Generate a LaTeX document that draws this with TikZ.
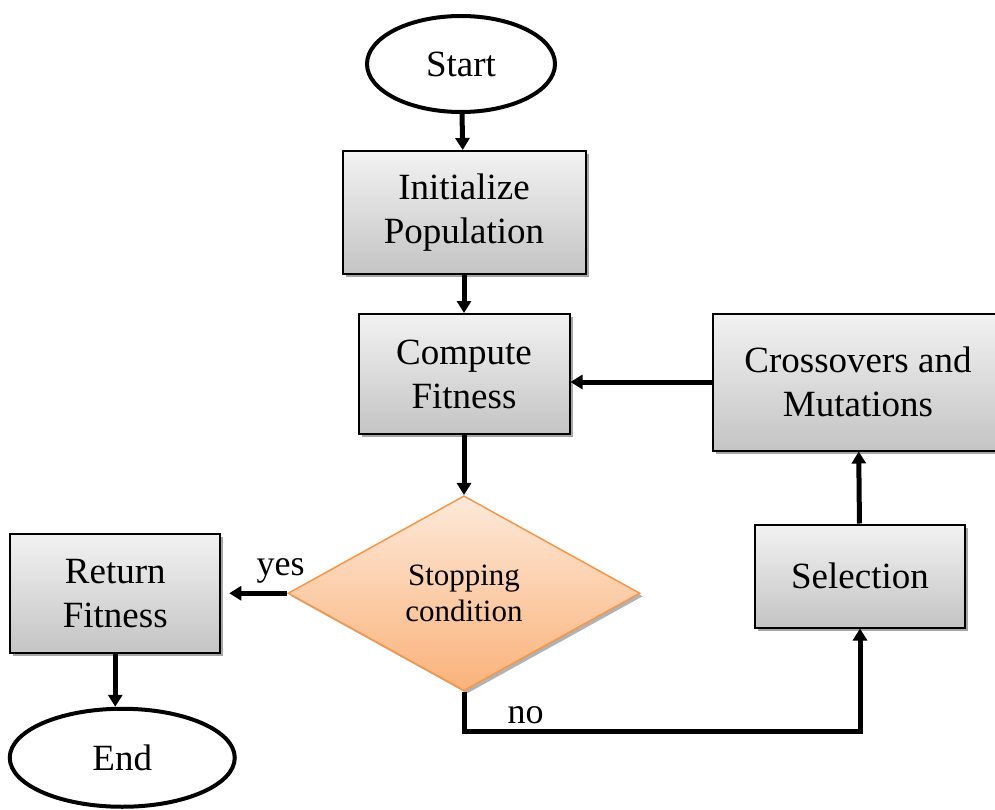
\documentclass[tikz,border=0pt]{standalone}
\usepackage{fontspec}
\setmainfont{Liberation Serif}
\usetikzlibrary{positioning,shapes.geometric,arrows.meta,shadows}
\definecolor{boxtop}{HTML}{F2F2F2}
\definecolor{boxbot}{HTML}{C4C4C4}
\definecolor{condtop}{HTML}{FDE9D9}
\definecolor{condbot}{HTML}{FAB27A}
\definecolor{condline}{HTML}{F79646}

\begin{document}
\begin{tikzpicture}[x=1pt,y=-1pt,
    big/.style={font=\fontsize{37}{44}\selectfont},
    term/.style={ellipse,draw,line width=4pt,fill=white,big,inner sep=0pt},
    proc/.style={draw,line width=2pt,top color=boxtop,bottom color=boxbot,align=center,big,inner sep=0pt,
                 drop shadow={shadow xshift=3pt,shadow yshift=-3pt,fill=gray!70,opacity=1}},
    cond/.style={diamond,draw=condline,line width=1.5pt,top color=condtop,bottom color=condbot,align=center,
                 font=\fontsize{31}{36}\selectfont,inner sep=0pt,aspect=1.8,
                 drop shadow={shadow xshift=3pt,shadow yshift=-3pt,fill=gray!60,opacity=1}},
    lbl/.style={font=\fontsize{36}{40}\selectfont},
    arr/.style={-{Triangle[length=12pt,width=14pt]},line width=5pt}]
    \useasboundingbox (0,0) rectangle (995,810);
    \node[term,minimum width=188pt,minimum height=96pt] (start) at (461,64) {Start};
    \node[proc,below=36pt of start,minimum width=243pt,minimum height=123pt,xshift=3pt] (init) {Initialize\\Population};
    \node[proc,below=38pt of init,minimum width=211pt,minimum height=120pt] (fit) {Compute\\Fitness};
    \node[cond,below=60pt of fit,minimum width=352pt,minimum height=195pt] (stop) {Stopping\\condition};
    \node[proc,left=66pt of stop,minimum width=210pt,minimum height=119pt] (ret) {Return\\Fitness};
    \node[term,below=53pt of ret,minimum width=225pt,minimum height=98pt,xshift=7pt] (end) {End};
    \node[proc,minimum width=210pt,minimum height=103pt] (sel) at (860,576) {Selection};
    \node[proc,above=72pt of sel,minimum width=290pt,minimum height=137pt,xshift=-2pt] (cross) {Crossovers and\\Mutations};
    \draw[arr] (start)--(init); \draw[arr] (init)--(fit); \draw[arr] (fit)--(stop);
    \draw[arr,shorten >=8pt] (stop.west)--(ret.east) node[lbl,pos=0.1,above=4pt] (yes) {yes};
    \draw[arr] (ret.south)--(ret.south|-end.north);
    \draw[arr] (stop.south)--++(0,40) coordinate (turn) -| (sel.south);
    \node[lbl,above right=4pt and 40pt of turn] (no) {no};
    \draw[arr] (sel)--(cross);
    \draw[arr] (cross.west)--(cross.west-|fit.east);
  \end{tikzpicture}
\end{document}
